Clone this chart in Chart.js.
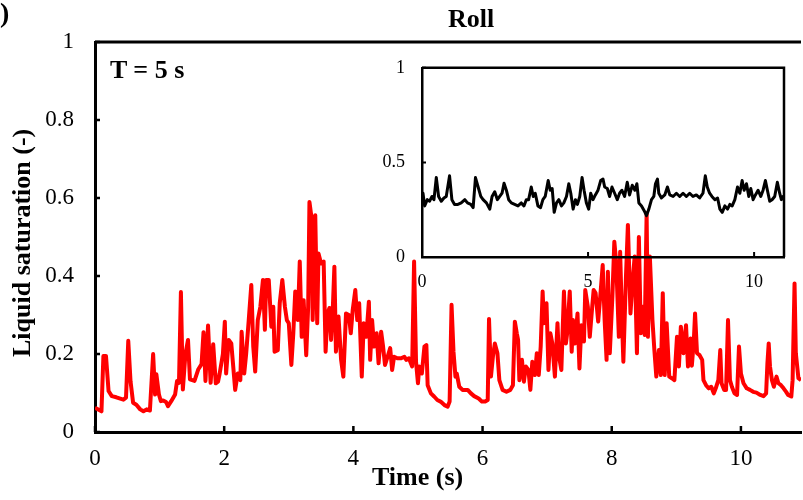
<!DOCTYPE html>
<html>
<head>
<meta charset="utf-8">
<script src="https://cdn.jsdelivr.net/npm/chart.js@4.4.1/dist/chart.umd.min.js"></script>
<style>
  body { margin: 0; background: #fff; }
  #wrap { position: relative; width: 803px; height: 500px; overflow: hidden; font-family: "Liberation Serif", "Times New Roman", serif; }
  canvas { position: absolute; }
  #mainChart { left: 0; top: 0; }
  #insetChart { left: 370px; top: 40px; }
  .lbl { position: absolute; font-weight: bold; font-size: 26px; line-height: 1; white-space: nowrap; color: #000; }
</style>
</head>
<body>
<div id="wrap">
  <canvas id="mainChart" width="803" height="500"></canvas>
  <canvas id="insetChart" width="433" height="260"></canvas>
  <div class="lbl" style="left:0;top:-1px;font-size:28px">)</div>
  <div class="lbl" style="left:448px;top:6px">Roll</div>
  <div class="lbl" style="left:110px;top:57px">T = 5 s</div>
  <div class="lbl" style="left:372px;top:464px">Time (s)</div>
  <div class="lbl" style="left:9px;top:357px;transform-origin:0 0;transform:rotate(-90deg)">Liquid saturation (-)</div>
</div>
<script>
// === ROLL, T = 5 s : liquid saturation vs time ===
const rollTime = [
    0, 0.1, 0.13, 0.17, 0.21, 0.26, 0.33, 0.44, 0.48, 0.515, 0.55, 0.59, 0.64, 0.7, 0.75, 0.8, 0.85,
    0.9, 0.93, 0.95, 0.99, 1.02, 1.055, 1.1, 1.13, 1.18, 1.24, 1.27, 1.3, 1.33, 1.36, 1.4, 1.44, 1.47,
    1.54, 1.6, 1.65, 1.68, 1.71, 1.75, 1.79, 1.83, 1.87, 1.905, 1.93, 1.98, 2.01, 2.03, 2.07, 2.11,
    2.14, 2.17, 2.21, 2.25, 2.27, 2.31, 2.34, 2.38, 2.42, 2.45, 2.48, 2.52, 2.56, 2.6, 2.63, 2.65,
    2.69, 2.73, 2.76, 2.78, 2.83, 2.86, 2.9, 2.94, 2.97, 3.0, 3.04, 3.07, 3.1, 3.14, 3.17, 3.2, 3.23,
    3.27, 3.3, 3.32, 3.35, 3.37, 3.41, 3.44, 3.46, 3.5, 3.54, 3.57, 3.6, 3.63, 3.655, 3.68, 3.706,
    3.73, 3.77, 3.81, 3.845, 3.886, 3.93, 3.96, 3.99, 4.03, 4.06, 4.09, 4.13, 4.16, 4.2, 4.24, 4.26,
    4.29, 4.32, 4.36, 4.39, 4.43, 4.46, 4.49, 4.53, 4.57, 4.6, 4.63, 4.68, 4.74, 4.79, 4.82, 4.86,
    4.91, 4.94, 4.97, 5.0, 5.02, 5.06, 5.1, 5.13, 5.15, 5.2, 5.25, 5.3, 5.35, 5.41, 5.46, 5.49, 5.52,
    5.55, 5.58, 5.6, 5.64, 5.69, 5.77, 5.82, 5.87, 5.94, 5.99, 6.04, 6.08, 6.1, 6.13, 6.16, 6.19,
    6.23, 6.26, 6.31, 6.37, 6.43, 6.47, 6.5, 6.53, 6.55, 6.57, 6.61, 6.64, 6.67, 6.71, 6.74, 6.77,
    6.81, 6.84, 6.87, 6.9, 6.93, 6.95, 6.99, 7.02, 7.05, 7.08, 7.12, 7.16, 7.18, 7.22, 7.26, 7.29,
    7.31, 7.35, 7.38, 7.4, 7.43, 7.47, 7.5, 7.53, 7.57, 7.59, 7.63, 7.66, 7.7, 7.72, 7.75, 7.79,
    7.83, 7.86, 7.89, 7.92, 7.94, 7.97, 8.01, 8.04, 8.07, 8.11, 8.13, 8.16, 8.18, 8.22, 8.25, 8.29,
    8.32, 8.355, 8.39, 8.42, 8.45, 8.48, 8.51, 8.54, 8.56, 8.59, 8.63, 8.66, 8.69, 8.73, 8.76, 8.79,
    8.82, 8.85, 8.89, 8.93, 8.97, 9.01, 9.04, 9.07, 9.11, 9.15, 9.18, 9.22, 9.24, 9.27, 9.29, 9.32,
    9.36, 9.4, 9.42, 9.46, 9.5, 9.54, 9.58, 9.61, 9.65, 9.68, 9.7, 9.74, 9.77, 9.8, 9.83, 9.86, 9.9,
    9.94, 9.97, 10.0, 10.04, 10.09, 10.14, 10.19, 10.24, 10.3, 10.35, 10.39, 10.41, 10.43, 10.45,
    10.48, 10.51, 10.55, 10.58, 10.62, 10.66, 10.7, 10.73, 10.78, 10.8, 10.83, 10.85, 10.89, 10.93
];
const rollSat = [
    0.062, 0.053, 0.195, 0.195, 0.105, 0.092, 0.089, 0.083, 0.088, 0.234, 0.13, 0.075, 0.07, 0.058, 0.053, 0.058, 0.055,
    0.2, 0.096, 0.148, 0.096, 0.079, 0.081, 0.077, 0.066, 0.079, 0.096, 0.131, 0.126, 0.359, 0.109, 0.2, 0.236, 0.135,
    0.131, 0.161, 0.174, 0.256, 0.131, 0.273, 0.126, 0.225, 0.125, 0.129, 0.15, 0.2, 0.283, 0.15, 0.236, 0.227,
    0.168, 0.108, 0.15, 0.133, 0.257, 0.15, 0.2, 0.287, 0.377, 0.219, 0.155, 0.287, 0.321, 0.39, 0.262, 0.39,
    0.39, 0.27, 0.321, 0.206, 0.21, 0.33, 0.39, 0.321, 0.287, 0.279, 0.172, 0.253, 0.36, 0.287, 0.437, 0.244, 0.338,
    0.197, 0.321, 0.59, 0.552, 0.287, 0.556, 0.279, 0.458, 0.432, 0.437, 0.206, 0.304, 0.318, 0.236, 0.309, 0.424,
    0.206, 0.296, 0.185, 0.142, 0.304, 0.3, 0.253, 0.313, 0.364, 0.287, 0.33, 0.142, 0.279, 0.244, 0.334, 0.185,
    0.287, 0.219, 0.253, 0.176, 0.257, 0.219, 0.172, 0.193, 0.215, 0.159, 0.193, 0.189, 0.189, 0.193, 0.185, 0.189,
    0.168, 0.437, 0.18, 0.125, 0.168, 0.15, 0.219, 0.223, 0.12, 0.099, 0.091, 0.082, 0.078, 0.069, 0.065, 0.078, 0.326,
    0.206, 0.142, 0.15, 0.116, 0.108, 0.108, 0.099, 0.092, 0.086, 0.078, 0.078, 0.082, 0.29, 0.142, 0.193, 0.227,
    0.202, 0.133, 0.108, 0.103, 0.108, 0.12, 0.283, 0.253, 0.236, 0.133, 0.185, 0.129, 0.168, 0.159, 0.108, 0.18,
    0.146, 0.202, 0.146, 0.219, 0.36, 0.279, 0.33, 0.159, 0.253, 0.227, 0.142, 0.279, 0.197, 0.159, 0.36, 0.227,
    0.253, 0.36, 0.206, 0.287, 0.227, 0.304, 0.163, 0.274, 0.232, 0.364, 0.321, 0.244, 0.326, 0.364, 0.356, 0.283,
    0.364, 0.428, 0.287, 0.185, 0.411, 0.202, 0.347, 0.488, 0.432, 0.244, 0.462, 0.279, 0.18, 0.398, 0.531, 0.304,
    0.381, 0.45, 0.202, 0.5, 0.253, 0.321, 0.249, 0.561, 0.244, 0.45, 0.287, 0.21, 0.142, 0.21, 0.146, 0.356,
    0.146, 0.279, 0.142, 0.138, 0.133, 0.244, 0.168, 0.27, 0.202, 0.274, 0.168, 0.24, 0.17, 0.232, 0.304, 0.202,
    0.197, 0.185, 0.133, 0.12, 0.112, 0.116, 0.099, 0.112, 0.133, 0.21, 0.125, 0.108, 0.108, 0.287, 0.133, 0.116, 0.099,
    0.095, 0.219, 0.15, 0.125, 0.112, 0.108, 0.103, 0.101, 0.095, 0.092, 0.099, 0.176, 0.227, 0.168,
    0.133, 0.116, 0.142, 0.125, 0.12, 0.112, 0.103, 0.095, 0.091, 0.133, 0.381, 0.202, 0.138, 0.133
];

// === INSET ===
const insetTime = [
    0, 0.03, 0.08, 0.16, 0.23, 0.3, 0.36, 0.43, 0.5, 0.58, 0.66, 0.73, 0.83, 0.9, 0.98, 1.08, 1.18,
    1.29, 1.37, 1.47, 1.54, 1.61, 1.69, 1.77, 1.84, 1.94, 2.04, 2.11, 2.19, 2.27, 2.34, 2.41, 2.47,
    2.54, 2.61, 2.69, 2.79, 2.89, 2.99, 3.07, 3.14, 3.21, 3.29, 3.35, 3.41, 3.49, 3.57, 3.64, 3.71,
    3.8, 3.86, 3.92, 3.98, 4.05, 4.12, 4.2, 4.27, 4.35, 4.42, 4.48, 4.55, 4.62, 4.68, 4.75, 4.82,
    4.88, 4.95, 5.02, 5.08, 5.15, 5.22, 5.3, 5.38, 5.45, 5.5, 5.58, 5.65, 5.72, 5.8, 5.88, 5.95,
    6.02, 6.1, 6.18, 6.25, 6.33, 6.41, 6.47, 6.53, 6.61, 6.69, 6.76, 6.83, 6.91, 6.98, 7.03, 7.09,
    7.13, 7.21, 7.31, 7.39, 7.46, 7.56, 7.66, 7.76, 7.86, 7.96, 8.06, 8.16, 8.26, 8.36, 8.46, 8.53,
    8.59, 8.66, 8.73, 8.82, 8.9, 8.97, 9.04, 9.12, 9.2, 9.27, 9.34, 9.42, 9.5, 9.57, 9.64, 9.7,
    9.77, 9.84, 9.9, 9.97, 10.04, 10.12, 10.2, 10.27, 10.34, 10.4, 10.47, 10.54, 10.62, 10.7, 10.77,
    10.82, 10.87, 10.9
];
const insetSat = [
    0.33, 0.337, 0.27, 0.303, 0.295, 0.32, 0.303, 0.42, 0.32, 0.295, 0.312, 0.32, 0.429, 0.303, 0.278, 0.278, 0.286,
    0.303, 0.286, 0.278, 0.261, 0.42, 0.37, 0.32, 0.303, 0.286, 0.253, 0.32, 0.345, 0.303, 0.32, 0.337, 0.39,
    0.353, 0.303, 0.286, 0.278, 0.27, 0.286, 0.27, 0.303, 0.303, 0.37, 0.32, 0.337, 0.27, 0.261, 0.303, 0.32,
    0.404, 0.353, 0.362, 0.236, 0.286, 0.303, 0.27, 0.286, 0.32, 0.387, 0.337, 0.253, 0.303, 0.278, 0.32, 0.42,
    0.353, 0.286, 0.253, 0.337, 0.303, 0.328, 0.353, 0.404, 0.412, 0.37, 0.362, 0.32, 0.37, 0.337, 0.303, 0.337,
    0.353, 0.32, 0.395, 0.328, 0.379, 0.353, 0.387, 0.286, 0.27, 0.245, 0.219, 0.253, 0.303, 0.32, 0.387, 0.412,
    0.337, 0.312, 0.328, 0.37, 0.328, 0.32, 0.337, 0.32, 0.337, 0.32, 0.337, 0.32, 0.328, 0.312, 0.337, 0.429,
    0.37, 0.337, 0.32, 0.303, 0.312, 0.253, 0.236, 0.27, 0.253, 0.278, 0.27, 0.303, 0.37, 0.337, 0.404, 0.353,
    0.387, 0.32, 0.362, 0.303, 0.328, 0.353, 0.32, 0.353, 0.404, 0.353, 0.295, 0.303, 0.32, 0.395, 0.337,
    0.303, 0.32, 0.3
];

// === TICKS ===
const mainXTicks = [0, 2, 4, 6, 8, 10];
const mainYTicks = [0, 0.2, 0.4, 0.6, 0.8, 1];
const insetXTicks = [0, 5, 10];
const insetYTicks = [0, 0.5, 1];

const FONT = "'Liberation Serif', 'Times New Roman', serif";
Chart.defaults.font.family = FONT;

function toPoints(xs, ys) {
    return xs.map((x, i) => ({ x: x, y: ys[i] }));
}

// axis with fixed ticks, no grid, labels outside, border on
function axis(min, max, ticks, size, pad, borderW, fit) {
    return {
        type: "linear",
        min: min,
        max: max,
        afterBuildTicks: s => { s.ticks = ticks.map(v => ({ value: v })); },
        afterFit: fit,
        grid: { display: false, drawTicks: false },
        border: { display: true, color: "#000", width: borderW },
        ticks: {
            color: "#000",
            font: { family: FONT, size: size },
            padding: pad,
            maxRotation: 0,
            autoSkip: false,
            callback: v => String(v)
        }
    };
}

// inward tick marks + the frame sides the axes don't draw
function framePlugin(o) {
    return {
        id: "frame",
        afterDatasetsDraw(chart) {
            const ctx = chart.ctx;
            const a = chart.chartArea;
            const xs = chart.scales.x;
            const ys = chart.scales.y;
            ctx.save();
            ctx.strokeStyle = "#000";
            ctx.lineWidth = o.lineWidth;
            ctx.beginPath();
            ctx.moveTo(a.left, a.top);
            ctx.lineTo(a.right, a.top);
            if (o.closeRight) ctx.lineTo(a.right, a.bottom);
            ctx.stroke();
            ctx.lineWidth = o.tickWidth;
            ctx.beginPath();
            xs.ticks.forEach(t => {
                const px = xs.getPixelForValue(t.value);
                ctx.moveTo(px, a.bottom);
                ctx.lineTo(px, a.bottom - o.xTick);
            });
            ys.ticks.forEach(t => {
                const py = ys.getPixelForValue(t.value);
                ctx.moveTo(a.left, py);
                ctx.lineTo(a.left + o.yTick, py);
            });
            ctx.stroke();
            ctx.restore();
        }
    };
}

const common = {
    responsive: false,
    animation: false,
    events: [],
    plugins: { legend: { display: false }, tooltip: { enabled: false } }
};

// === MAIN CHART ===
const mainChart = new Chart(document.getElementById("mainChart"), {
    type: "line",
    data: {
        datasets: [{
            data: toPoints(rollTime, rollSat),
            borderColor: "#ff0000",
            borderWidth: 4,
            borderJoinStyle: "round",
            pointRadius: 0,
            tension: 0
        }]
    },
    options: Object.assign({}, common, {
        layout: { padding: { top: 42, right: 0, left: 0, bottom: 0 } },
        scales: {
            x: axis(0, 10.93, mainXTicks, 23, 13, 3, s => { s.height = 68; }),
            y: axis(0, 1, mainYTicks, 23, 21, 3, s => { s.width = 95; })
        }
    }),
    plugins: [framePlugin({ lineWidth: 3, tickWidth: 2.5, xTick: 6, yTick: 5, closeRight: false })]
});

// === INSET CHART ===
const insetChart = new Chart(document.getElementById("insetChart"), {
    type: "line",
    data: {
        datasets: [{
            data: toPoints(insetTime, insetSat),
            borderColor: "#000",
            borderWidth: 3,
            borderJoinStyle: "round",
            pointRadius: 0,
            tension: 0
        }]
    },
    options: Object.assign({}, common, {
        layout: { padding: { top: 18, right: 19, left: 0, bottom: 0 } },
        scales: {
            x: axis(0, 10.9, insetXTicks, 18, 14, 2.5, s => { s.height = 43; }),
            y: axis(0, 1, insetYTicks, 18, 17, 2.5, s => { s.width = 52; })
        }
    }),
    plugins: [framePlugin({ lineWidth: 2.5, tickWidth: 2, xTick: 5, yTick: 4, closeRight: true })]
});

// redraw once the serif face is ready, canvas text may have used a fallback
function redraw() {
    mainChart.update("none");
    insetChart.update("none");
}
document.fonts.ready.then(() => requestAnimationFrame(() => requestAnimationFrame(redraw)));
window.addEventListener("load", () => setTimeout(redraw, 30));
</script>
</body>
</html>
